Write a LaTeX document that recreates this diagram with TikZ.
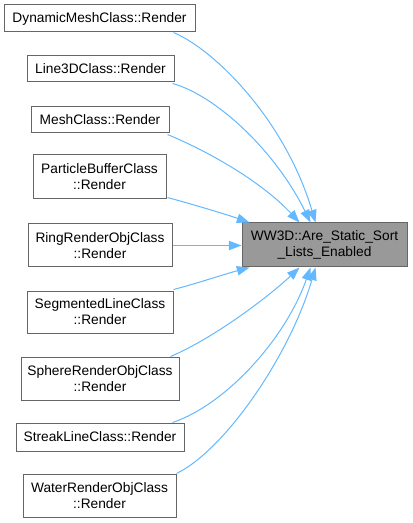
\documentclass[tikz,border=0pt]{standalone}
\usepackage{fontspec}
\setmainfont{Liberation Sans}
\usetikzlibrary{arrows.meta,calc}
\definecolor{edgeblue}{HTML}{63B8FF}
\definecolor{boxborder}{HTML}{666666}
\definecolor{targetfill}{HTML}{999999}
\begin{document}
\begin{tikzpicture}[x=0.75pt,y=-0.75pt,
  box/.style={draw=boxborder,line width=0.75pt,fill=white,align=center,inner sep=0pt,
    font=\fontsize{10.3}{12}\selectfont},
  target/.style={box,fill=targetfill},
  edge/.style={draw=edgeblue,line width=0.75pt,-{Triangle[length=9.5pt,width=7pt]}}]
\useasboundingbox (0,0) rectangle (412,523);
\node[box,minimum width=143.25pt,minimum height=20.25pt] (d) at (99.5,18.5) {DynamicMeshClass::Render};
\node[box,minimum width=110.25pt,minimum height=19.5pt] (l) at (100.5,69) {Line3DClass::Render};
\node[box,minimum width=103.5pt,minimum height=19.5pt] (m) at (100,120) {MeshClass::Render};
\node[box,minimum width=99.75pt,minimum height=33pt] (p) at (99.5,177) {ParticleBufferClass\\::Render};
\node[box,minimum width=108pt,minimum height=32.25pt] (r) at (100,245.5) {RingRenderObjClass\\::Render};
\node[box,minimum width=109.5pt,minimum height=31.5pt] (s) at (100,312) {SegmentedLineClass\\::Render};
\node[box,minimum width=118.5pt,minimum height=32.25pt] (sp) at (100,378.5) {SphereRenderObjClass\\::Render};
\node[box,minimum width=126pt,minimum height=21pt] (st) at (100,437) {StreakLineClass::Render};
\node[box,minimum width=114.75pt,minimum height=32.25pt] (w) at (99.5,495.5) {WaterRenderObjClass\\::Render};
\node[target,minimum width=123.75pt,minimum height=33pt] (t) at (324.5,245) {WW3D::Are\_Static\_Sort\\\_Lists\_Enabled};
% edges
\draw[edge] ($(d.south east)+(-22,0)$) .. controls (215,50) and (285,120) .. ($(t.north west)+(74,0)$);
\draw[edge] ($(l.south east)+(-2,1)$) .. controls (215,95) and (275,150) .. ($(t.north west)+(69,0)$);
\draw[edge] ($(m.south east)+(-2,1)$) .. controls (205,150) and (260,180) .. ($(t.north west)+(58,0)$);
\draw[edge] ($(p.south east)+(1,-2)$) .. controls (195,205) and (225,214) .. ($(t.north west)+(8,0)$);
\draw[edge] (r.east) -- (t.west |- r.east);
\draw[edge] ($(s.north east)+(0,-1)$) .. controls (195,284) and (225,274) .. ($(t.south west)+(8,0)$);
\draw[edge] ($(sp.north east)+(-9,0)$) .. controls (210,340) and (265,300) .. ($(t.south west)+(58,0)$);
\draw[edge] ($(st.north east)+(-12,0)$) .. controls (225,405) and (285,340) .. ($(t.south west)+(69,0)$);
\draw[edge] ($(w.north east)+(0,0)$) .. controls (225,450) and (290,355) .. ($(t.south west)+(74,0)$);
\end{tikzpicture}
\end{document}
